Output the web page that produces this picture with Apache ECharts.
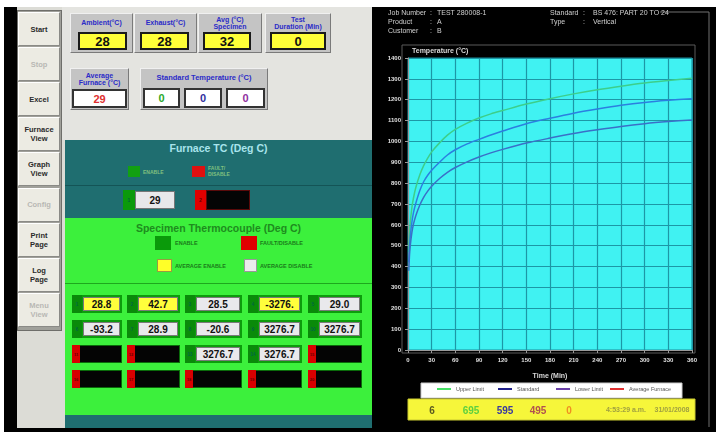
<!DOCTYPE html>
<html><head><meta charset="utf-8">
<script src="https://cdn.jsdelivr.net/npm/echarts@6/dist/echarts.min.js"></script>
<style>
body{margin:0;width:716px;height:432px;overflow:hidden;background:#fff;position:relative;font-family:"Liberation Sans",Arial,sans-serif;}
.a{position:absolute;box-sizing:border-box;}
.c{display:flex;align-items:center;justify-content:center;text-align:center;line-height:1.05;}
</style></head><body>
<div id="ui"></div>
<div id="chart" class="a" style="left:372px;top:7px;width:344px;height:425px;"></div>
<script>
// ---------- DATA ----------
const timeMin    = [1, 2, 3, 5, 7, 10, 15, 20, 25, 30, 40, 50, 60, 75, 90, 105, 120, 150, 180, 210, 240, 270, 300, 330, 360];
const upperLimit = [470, 560, 615, 685, 730, 780, 840, 885, 920, 950, 993, 1030, 1058, 1088, 1112, 1132, 1148, 1179, 1205, 1228, 1248, 1265, 1280, 1292, 1303];
const standard   = [420, 500, 550, 615, 660, 705, 765, 808, 838, 862, 900, 935, 960, 988, 1010, 1031, 1050, 1085, 1111, 1135, 1155, 1173, 1187, 1197, 1205];
const lowerLimit = [380, 460, 505, 565, 605, 645, 695, 733, 762, 785, 822, 852, 875, 902, 925, 945, 962, 992, 1016, 1038, 1056, 1072, 1085, 1095, 1103];
const avgFurnaceTime = [0];
const avgFurnace     = [29];
const seriesNames = ['Upper Limit', 'Standard', 'Lower Limit', 'Average Furnace'];

const buttonLabels  = ['Start', 'Stop', 'Excel', 'Furnace<br>View', 'Graph<br>View', 'Config', 'Print<br>Page', 'Log<br>Page', 'Menu<br>View'];
const buttonEnabled = [true, false, true, true, true, false, true, true, false];

const topLabels = ['Ambient(°C)', 'Exhaust(°C)', 'Avg (°C)<br>Specimen', 'Test<br>Duration (Min)'];
const topValues = ['28', '28', '32', '0'];
const avgFurnaceLabel = 'Average<br>Furnace (°C)';
const avgFurnaceValue = '29';
const stdTempValues = ['0', '0', '0'];
const furnaceTC = [{n: '1', v: '29', ok: true}, {n: '2', v: '', ok: false}];
const specimenValues = ['28.8', '42.7', '28.5', '-3276.', '29.0',
                        '-93.2', '28.9', '-20.6', '3276.7', '3276.7',
                        '', '', '3276.7', '3276.7', '',
                        '', '', '', '', ''];
const specimenState  = ['avg', 'avg', 'on', 'avg', 'on',
                        'on', 'on', 'on', 'on', 'on',
                        'fault', 'fault', 'on', 'on', 'fault',
                        'fault', 'fault', 'fault', 'fault', 'fault'];
const footerValues = ['6', '695', '595', '495', '0'];
const footerTime = '4:53:29 a.m.';
const footerDate = '31/01/2008';
const header = [['Job Number', 'TEST 280008-1'], ['Product', 'A'], ['Customer', 'B']];
const header2 = [['Standard', 'BS 476: PART 20 TO 24'], ['Type', 'Vertical']];

// ---------- UI PANEL ----------
const ui = document.getElementById('ui');
function el(x, y, w, h, css, html) {
  const d = document.createElement('div');
  d.className = 'a' + (html != null ? ' c' : '');
  d.style.cssText = `left:${x}px;top:${y}px;width:${w}px;height:${h}px;` + (css || '');
  if (html != null) d.innerHTML = html;
  ui.appendChild(d);
  return d;
}
el(4, 7, 712, 425, 'background:#000');
el(17, 7, 48, 421, 'background:#dcdcd6');
el(17, 10, 45, 321, 'background:#a0a09a;border:1px solid #6e6e6a');
buttonLabels.forEach((t, i) => {
  el(18, 12 + i * 35.1, 42, 34,
     'background:#ecebe3;border:1px solid;border-color:#fff #8a8a86 #8a8a86 #fff;font:bold 7.5px "Liberation Sans",Arial;color:' + (buttonEnabled[i] ? '#2a2a2a' : '#b8b8b4'), t);
});
// top area
el(62, 7, 310, 133, 'background:#e4e4e0');
const grpCss = 'background:#c4c4c4;border:1px solid;border-color:#f0f0f0 #7a7a7a #7a7a7a #f0f0f0;';
const lblCss = 'font:bold 7px "Liberation Sans",Arial;color:#2b2bc8;';
const topX = [[70, 63, 78, 49], [134, 63, 140, 49], [198, 64, 203, 48], [265, 66, 270, 56]];
topX.forEach((p, i) => {
  el(p[0], 13, p[1], 40, grpCss);
  el(p[0], 13, p[1], 19, lblCss, topLabels[i]);
  el(p[2], 32, p[3], 18, 'background:#ffff38;border:2px solid #1a1a1a;font:bold 13px "Liberation Sans",Arial;color:#111', topValues[i]);
});
el(70, 68, 59, 42, grpCss);
el(70, 68, 59, 21, lblCss, avgFurnaceLabel);
el(72, 89, 55, 19, 'background:#fff;border:2px solid #333;font:bold 11px "Liberation Sans",Arial;color:#e03030', avgFurnaceValue);
el(140, 68, 128, 42, grpCss);
el(140, 68, 128, 19, 'font:bold 7.5px "Liberation Sans",Arial;color:#2b2bc8;', 'Standard Temperature (°C)');
const stdColors = ['#2aa82a', '#3030a0', '#9030a0'];
[[143, 37], [184, 38], [226, 39]].forEach((p, i) => {
  el(p[0], 88, p[1], 20, 'background:#fff;border:2px solid #333;font:bold 11px "Liberation Sans",Arial;color:' + stdColors[i], stdTempValues[i]);
});
// furnace TC section
el(65, 140, 307, 78, 'background:#1f6e70');
el(65, 185, 307, 1, 'background:#145456');
el(65, 141, 307, 14, 'font:bold 10.5px "Liberation Sans",Arial;color:#a8e4ec', 'Furnace TC (Deg C)');
el(128, 166, 12, 11, 'background:#12a012');
el(143, 166, 30, 11, 'font:bold 5px "Liberation Sans",Arial;color:#7fc07f;justify-content:flex-start', 'ENABLE');
el(192, 166, 13, 11, 'background:#e01010');
el(208, 164, 30, 14, 'font:bold 5px "Liberation Sans",Arial;color:#7fc07f;justify-content:flex-start;text-align:left', 'FAULT/<br>DISABLE');
el(123, 190, 12, 20, 'background:#0b9a0b;font:bold 5px "Liberation Sans",Arial;color:#063', furnaceTC[0].n);
el(135, 191, 40, 18, 'background:#e8e8ea;border:1px solid #777;font:bold 10px "Liberation Sans",Arial;color:#111', furnaceTC[0].v);
el(195, 190, 11, 20, 'background:#e00000;font:bold 5px "Liberation Sans",Arial;color:#600', furnaceTC[1].n);
el(206, 190, 44, 20, 'background:#050505;border:1px solid #5a0a0a', furnaceTC[1].v);
// specimen section
el(65, 218, 307, 197, 'background:#3cf03c');
el(65, 221, 307, 14, 'font:bold 10.5px "Liberation Sans",Arial;color:#1e8c1e', 'Specimen Thermocouple (Deg C)');
const legTxt = 'font:bold 5.5px "Liberation Sans",Arial;color:#1a7a1a;justify-content:flex-start;';
el(155, 236, 16, 14, 'background:#0a9a0a');
el(175, 236, 50, 14, legTxt, 'ENABLE');
el(241, 236, 16, 14, 'background:#e00000');
el(260, 236, 60, 14, legTxt, 'FAULT/DISABLE');
el(157, 259, 15, 13, 'background:#ffff28;border:1px solid #9a9a40');
el(175, 259, 60, 13, legTxt, 'AVERAGE ENABLE');
el(244, 259, 13, 13, 'background:#ececec;border:1px solid #999');
el(260, 259, 60, 13, legTxt, 'AVERAGE DISABLE');
el(65, 283, 307, 1, 'background:#1ea81e');
const colX = [[72, 50], [127, 53], [185, 57], [248, 54], [308, 54]];
const rowY = [295, 320, 345, 370];
specimenValues.forEach((v, k) => {
  const r = Math.floor(k / 5), c = k % 5;
  const x = colX[c][0], w = colX[c][1], y = rowY[r], h = 18;
  const st = specimenState[k];
  if (st === 'fault') {
    el(x, y, w, h, 'background:#040404;border:1px solid #0a6a0a');
    el(x, y, 8, h, 'background:#d80000;font:bold 4px "Liberation Sans",Arial;color:#600', String(k + 1));
  } else {
    el(x, y, w, h, 'background:#0c9c0c');
    el(x, y, 10, h, 'background:#0a8a0a;font:bold 4.5px "Liberation Sans",Arial;color:#064', String(k + 1));
    el(x + 11, y + 2, w - 13, h - 4, 'border:1px solid #7a7a7a;font:bold 10px "Liberation Sans",Arial;color:#111;background:' + (st === 'avg' ? '#ffff3c' : '#e9e9ec'), v);
  }
});
el(65, 415, 307, 13, 'background:#1f6e70');

// ---------- CHART ----------
const chart = echarts.init(document.getElementById('chart'), null, {renderer: 'canvas'});
const lineColors = ['#3ccf8a', '#2b7fe0', '#3a6fc8', '#e03030'];
const legendColors = ['#45e065', '#20208a', '#6a40a8', '#e03030'];
const legendLeft = [65, 126, 184, 238];
const footerColors = ['#5a5a20', '#5ed040', '#3a3aa0', '#b05050', '#f09020'];
const footerX = [60, 99, 133, 166, 197];
const lbl = {color: '#d8d8d8', fontSize: 7, fontFamily: 'Liberation Sans', fontWeight: 'bold'};

function pairs(xs, ys) { return xs.map((x, i) => [x, ys[i]]); }

const txt = (x, y, text, fill, size, bold, align) => ({type: 'text', x, y, style: {text, fill, fontSize: size, fontFamily: 'Liberation Sans', fontWeight: bold ? 'bold' : 'normal', align: align || 'left', verticalAlign: 'middle'}});
const graphic = [
  {type: 'polyline', shape: {points: [[288, 5], [337, 5], [337, 420]]}, style: {stroke: '#707070', fill: null, lineWidth: 1}},
  {type: 'rect', shape: {x: 30, y: 38, width: 293, height: 308}, style: {stroke: '#5a5a5a', fill: null, lineWidth: 1}},
  {type: 'rect', shape: {x: 49, y: 376, width: 261, height: 15}, style: {fill: '#ffffff', stroke: '#cccccc'}},
  {type: 'rect', shape: {x: 36, y: 392, width: 287, height: 21}, style: {fill: '#f6f63a', stroke: '#c8c830'}},
  txt(254, 403, footerTime, '#a0a040', 7, true, 'center'),
  txt(300, 403, footerDate, '#a0a040', 7, true, 'center')
];
footerValues.forEach((v, i) => graphic.push(txt(footerX[i], 404, v, footerColors[i], 10, true, 'center')));
header.forEach((h, i) => {
  const y = 6 + i * 9;
  graphic.push(txt(16, y, h[0], '#d0d0d0', 7), txt(58, y, ':', '#d0d0d0', 7), txt(65, y, h[1], '#d0d0d0', 7));
});
header2.forEach((h, i) => {
  const y = 6 + i * 9;
  graphic.push(txt(178, y, h[0], '#d0d0d0', 7), txt(211, y, ':', '#d0d0d0', 7), txt(221, y, h[1], '#d0d0d0', 7));
});

const option = {
  backgroundColor: '#000',
  animation: false,
  graphic,
  legend: seriesNames.map((n, i) => ({
    data: [{name: n, itemStyle: {color: legendColors[i]}}],
    left: legendLeft[i], top: 379, padding: 0, itemWidth: 14, itemHeight: 2, icon: 'rect',
    textStyle: {fontSize: 5.5, color: '#555', fontFamily: 'Liberation Sans'}, selectedMode: false
  })),
  grid: {left: 36, top: 51, width: 284, height: 292, show: true, backgroundColor: '#40f2f2', borderColor: '#1a8e9c', borderWidth: 1},
  xAxis: {
    type: 'value', min: 0, max: 360, interval: 30, offset: 3,
    name: 'Time (Min)', nameLocation: 'middle', nameGap: 20,
    nameTextStyle: lbl,
    axisLine: {show: true, lineStyle: {color: '#9a9a9a'}},
    axisTick: {show: true, length: 3, lineStyle: {color: '#9a9a9a'}},
    axisLabel: {color: '#e0e0e0', fontSize: 6, margin: 4, fontWeight: 'bold', fontFamily: 'Liberation Sans', formatter: v => String(v)},
    splitLine: {show: true, lineStyle: {color: '#1d97a6', width: 1.2}}
  },
  yAxis: {
    type: 'value', min: 0, max: 1400, interval: 100, offset: 4,
    name: 'Temperature (°C)', nameLocation: 'end', nameGap: 3,
    nameTextStyle: Object.assign({align: 'left', padding: [0, 0, 0, 4]}, lbl),
    axisLine: {show: true, lineStyle: {color: '#9a9a9a'}},
    axisTick: {show: true, length: 3, lineStyle: {color: '#9a9a9a'}},
    axisLabel: {color: '#e0e0e0', fontSize: 6, margin: 3, fontWeight: 'bold', fontFamily: 'Liberation Sans', formatter: v => String(v)},
    splitLine: {show: true, lineStyle: {color: '#1d97a6', width: 1.2}}
  },
  series: [
    {name: seriesNames[0], type: 'line', data: pairs(timeMin, upperLimit)},
    {name: seriesNames[1], type: 'line', data: pairs(timeMin, standard)},
    {name: seriesNames[2], type: 'line', data: pairs(timeMin, lowerLimit)},
    {name: seriesNames[3], type: 'line', data: pairs(avgFurnaceTime, avgFurnace)}
  ].map((s, i) => Object.assign(s, {smooth: 0.3, showSymbol: false, color: lineColors[i], lineStyle: {width: 1.5, color: lineColors[i]}}))
};
chart.setOption(option);
</script>
</body></html>
